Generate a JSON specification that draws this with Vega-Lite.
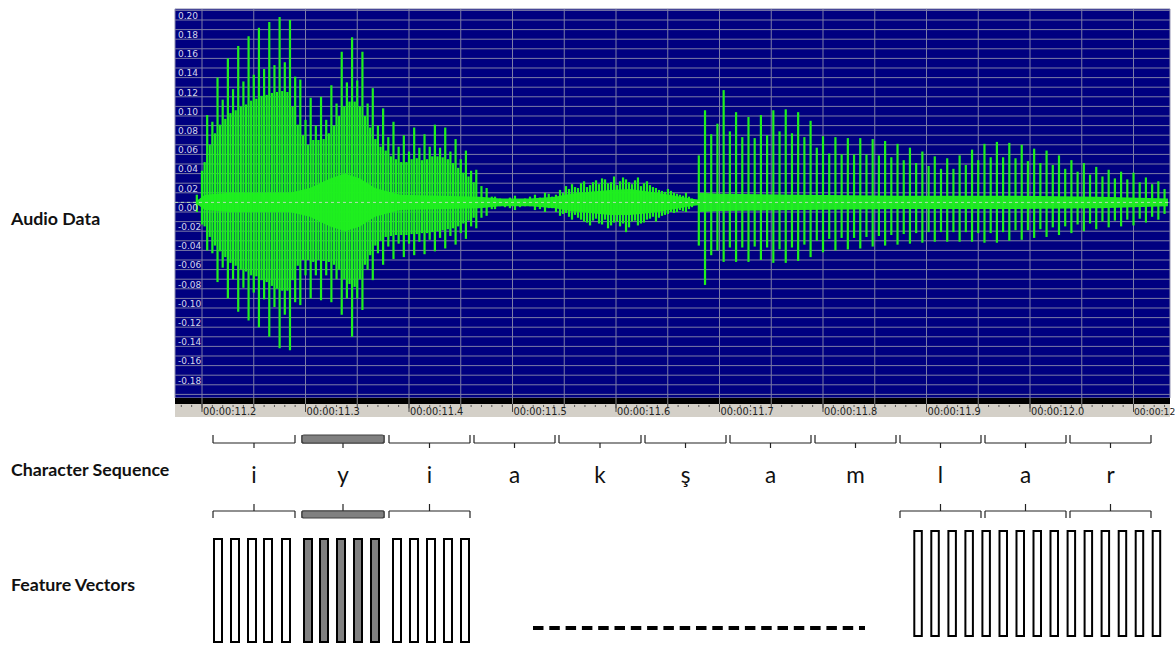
{
"$schema":"https://vega.github.io/schema/vega-lite/v6.json",
"width":1176,"height":646,"padding":0,
"autosize":{"type":"fit","contains":"padding"},
"background":"white",
"config":{"view":{"stroke":null}},
"datasets":{
"panel":[{"start":11173.91,"end":12135.26,"min":-0.2037,"max":0.2015}],
"hgrid":[{"a":-0.2},{"a":-0.19},{"a":-0.18},{"a":-0.17},{"a":-0.16},{"a":-0.15},{"a":-0.14},{"a":-0.13},{"a":-0.12},{"a":-0.11},{"a":-0.1},{"a":-0.09},{"a":-0.08},{"a":-0.07},{"a":-0.06},{"a":-0.05},{"a":-0.04},{"a":-0.03},{"a":-0.02},{"a":-0.01},{"a":0},{"a":0.01},{"a":0.02},{"a":0.03},{"a":0.04},{"a":0.05},{"a":0.06},{"a":0.07},{"a":0.08},{"a":0.09},{"a":0.1},{"a":0.11},{"a":0.12},{"a":0.13},{"a":0.14},{"a":0.15},{"a":0.16},{"a":0.17},{"a":0.18},{"a":0.19},{"a":0.2}],
"ylab":[{"a":0.2,"lab":"0.20"},{"a":0.18,"lab":"0.18"},{"a":0.16,"lab":"0.16"},{"a":0.14,"lab":"0.14"},{"a":0.12,"lab":"0.12"},{"a":0.1,"lab":"0.10"},{"a":0.08,"lab":"0.08"},{"a":0.06,"lab":"0.06"},{"a":0.04,"lab":"0.04"},{"a":0.02,"lab":"0.02"},{"a":0,"lab":"0.00"},{"a":-0.02,"lab":"-0.02"},{"a":-0.04,"lab":"-0.04"},{"a":-0.06,"lab":"-0.06"},{"a":-0.08,"lab":"-0.08"},{"a":-0.1,"lab":"-0.10"},{"a":-0.12,"lab":"-0.12"},{"a":-0.14,"lab":"-0.14"},{"a":-0.16,"lab":"-0.16"},{"a":-0.18,"lab":"-0.18"}],
"vgrid":[{"t":11200,"lab":"00:00:11.2"},{"t":11250},{"t":11300,"lab":"00:00:11.3"},{"t":11350},{"t":11400,"lab":"00:00:11.4"},{"t":11450},{"t":11500,"lab":"00:00:11.5"},{"t":11550},{"t":11600,"lab":"00:00:11.6"},{"t":11650},{"t":11700,"lab":"00:00:11.7"},{"t":11750},{"t":11800,"lab":"00:00:11.8"},{"t":11850},{"t":11900,"lab":"00:00:11.9"},{"t":11950},{"t":12000,"lab":"00:00:12.0"},{"t":12050},{"t":12100,"lab":"00:00:12"}],
"minor":[{"t":11180},{"t":11190},{"t":11210},{"t":11220},{"t":11230},{"t":11240},{"t":11260},{"t":11270},{"t":11280},{"t":11290},{"t":11310},{"t":11320},{"t":11330},{"t":11340},{"t":11360},{"t":11370},{"t":11380},{"t":11390},{"t":11410},{"t":11420},{"t":11430},{"t":11440},{"t":11460},{"t":11470},{"t":11480},{"t":11490},{"t":11510},{"t":11520},{"t":11530},{"t":11540},{"t":11560},{"t":11570},{"t":11580},{"t":11590},{"t":11610},{"t":11620},{"t":11630},{"t":11640},{"t":11660},{"t":11670},{"t":11680},{"t":11690},{"t":11710},{"t":11720},{"t":11730},{"t":11740},{"t":11760},{"t":11770},{"t":11780},{"t":11790},{"t":11810},{"t":11820},{"t":11830},{"t":11840},{"t":11860},{"t":11870},{"t":11880},{"t":11890},{"t":11910},{"t":11920},{"t":11930},{"t":11940},{"t":11960},{"t":11970},{"t":11980},{"t":11990},{"t":12010},{"t":12020},{"t":12030},{"t":12040},{"t":12060},{"t":12070},{"t":12080},{"t":12090},{"t":12110},{"t":12120},{"t":12130}],
"band":[{"t":11195.2,"hi":0.002,"lo":-0.002},{"t":11202.9,"hi":0.008,"lo":-0.008},{"t":11227.1,"hi":0.01,"lo":-0.01},{"t":11285.0,"hi":0.01,"lo":-0.01},{"t":11304.3,"hi":0.015,"lo":-0.015},{"t":11323.7,"hi":0.025,"lo":-0.025},{"t":11338.2,"hi":0.03,"lo":-0.03},{"t":11352.6,"hi":0.025,"lo":-0.025},{"t":11367.1,"hi":0.015,"lo":-0.015},{"t":11391.3,"hi":0.008,"lo":-0.008},{"t":11468.6,"hi":0.006,"lo":-0.006},{"t":11487.9,"hi":0.004,"lo":-0.004},{"t":11516.9,"hi":0.004,"lo":-0.004},{"t":11541.1,"hi":0.006,"lo":-0.006},{"t":11555.5,"hi":0.009,"lo":-0.009},{"t":11574.9,"hi":0.011,"lo":-0.011},{"t":11594.2,"hi":0.013,"lo":-0.013},{"t":11613.5,"hi":0.014,"lo":-0.013},{"t":11632.8,"hi":0.011,"lo":-0.011},{"t":11652.2,"hi":0.008,"lo":-0.008},{"t":11671.5,"hi":0.004,"lo":-0.004},{"t":11679.2,"hi":0.003,"lo":-0.003},{"t":11681.2,"hi":0.01,"lo":-0.01},{"t":11700.5,"hi":0.009,"lo":-0.009},{"t":11777.8,"hi":0.008,"lo":-0.008},{"t":11874.4,"hi":0.007,"lo":-0.007},{"t":11971.0,"hi":0.007,"lo":-0.007},{"t":12067.6,"hi":0.006,"lo":-0.006},{"t":12133.3,"hi":0.004,"lo":-0.004}],
"pulses":[
{"t":11195,"hi":0.008,"lo":-0.010},{"t":11200,"hi":0.033,"lo":-0.023},{"t":11205,"hi":0.091,"lo":-0.050},{"t":11210,"hi":0.084,"lo":-0.053},{"t":11215,"hi":0.130,"lo":-0.083},{"t":11220,"hi":0.107,"lo":-0.068},{"t":11225,"hi":0.150,"lo":-0.100},{"t":11230,"hi":0.118,"lo":-0.080},{"t":11235,"hi":0.163,"lo":-0.114},{"t":11240,"hi":0.126,"lo":-0.089},{"t":11245,"hi":0.173,"lo":-0.123},{"t":11250,"hi":0.133,"lo":-0.094},{"t":11255,"hi":0.182,"lo":-0.130},{"t":11260,"hi":0.139,"lo":-0.101},{"t":11265,"hi":0.188,"lo":-0.140},{"t":11270,"hi":0.143,"lo":-0.109},{"t":11275,"hi":0.193,"lo":-0.152},{"t":11280,"hi":0.146,"lo":-0.117},{"t":11285,"hi":0.190,"lo":-0.154},{"t":11290,"hi":0.131,"lo":-0.104},{"t":11295,"hi":0.128,"lo":-0.107},{"t":11300,"hi":0.086,"lo":-0.076},{"t":11305,"hi":0.109,"lo":-0.100},{"t":11310,"hi":0.080,"lo":-0.076},{"t":11315,"hi":0.110,"lo":-0.102},{"t":11320,"hi":0.086,"lo":-0.076},{"t":11325,"hi":0.122,"lo":-0.104},{"t":11330,"hi":0.103,"lo":-0.080},{"t":11335,"hi":0.157,"lo":-0.117},{"t":11340,"hi":0.125,"lo":-0.100},{"t":11345,"hi":0.172,"lo":-0.140},{"t":11350,"hi":0.127,"lo":-0.100},{"t":11355,"hi":0.157,"lo":-0.112},{"t":11360,"hi":0.103,"lo":-0.070},{"t":11365,"hi":0.119,"lo":-0.081},{"t":11370,"hi":0.080,"lo":-0.053},{"t":11375,"hi":0.098,"lo":-0.065},{"t":11380,"hi":0.068,"lo":-0.046},{"t":11385,"hi":0.084,"lo":-0.059},{"t":11390,"hi":0.058,"lo":-0.043},{"t":11395,"hi":0.070,"lo":-0.057},{"t":11400,"hi":0.053,"lo":-0.043},{"t":11405,"hi":0.078,"lo":-0.055},{"t":11410,"hi":0.057,"lo":-0.041},{"t":11415,"hi":0.071,"lo":-0.054},{"t":11420,"hi":0.058,"lo":-0.039},{"t":11425,"hi":0.081,"lo":-0.051},{"t":11430,"hi":0.057,"lo":-0.037},{"t":11435,"hi":0.078,"lo":-0.048},{"t":11440,"hi":0.053,"lo":-0.035},{"t":11445,"hi":0.066,"lo":-0.044},{"t":11450,"hi":0.045,"lo":-0.032},{"t":11455,"hi":0.054,"lo":-0.038},{"t":11460,"hi":0.033,"lo":-0.025},{"t":11465,"hi":0.034,"lo":-0.027},{"t":11470,"hi":0.017,"lo":-0.016},{"t":11475,"hi":0.015,"lo":-0.014},{"t":11480,"hi":0.006,"lo":-0.007},
{"t":11202.5,"hi":0.042,"lo":-0.025},{"t":11207.5,"hi":0.060,"lo":-0.036},{"t":11212.5,"hi":0.072,"lo":-0.045},{"t":11217.5,"hi":0.081,"lo":-0.051},{"t":11222.5,"hi":0.087,"lo":-0.057},{"t":11227.5,"hi":0.093,"lo":-0.063},{"t":11232.5,"hi":0.096,"lo":-0.066},{"t":11237.5,"hi":0.100,"lo":-0.070},{"t":11242.5,"hi":0.102,"lo":-0.072},{"t":11247.5,"hi":0.106,"lo":-0.076},{"t":11252.5,"hi":0.108,"lo":-0.077},{"t":11257.5,"hi":0.111,"lo":-0.081},{"t":11262.5,"hi":0.112,"lo":-0.083},{"t":11267.5,"hi":0.114,"lo":-0.087},{"t":11272.5,"hi":0.115,"lo":-0.090},{"t":11277.5,"hi":0.116,"lo":-0.092},{"t":11282.5,"hi":0.115,"lo":-0.092},{"t":11287.5,"hi":0.100,"lo":-0.081},{"t":11292.5,"hi":0.081,"lo":-0.066},
{"t":11297.5,"hi":0.070,"lo":-0.060},{"t":11302.5,"hi":0.060,"lo":-0.060},{"t":11307.5,"hi":0.065,"lo":-0.062},{"t":11312.5,"hi":0.065,"lo":-0.060},{"t":11317.5,"hi":0.066,"lo":-0.061},{"t":11322.5,"hi":0.072,"lo":-0.062},{"t":11327.5,"hi":0.080,"lo":-0.065},{"t":11332.5,"hi":0.090,"lo":-0.070},{"t":11337.5,"hi":0.100,"lo":-0.080},{"t":11342.5,"hi":0.105,"lo":-0.085},{"t":11347.5,"hi":0.105,"lo":-0.088},{"t":11352.5,"hi":0.100,"lo":-0.080},{"t":11357.5,"hi":0.090,"lo":-0.065},{"t":11362.5,"hi":0.078,"lo":-0.055},{"t":11367.5,"hi":0.066,"lo":-0.045},{"t":11372.5,"hi":0.058,"lo":-0.040},
{"t":11377.5,"hi":0.054,"lo":-0.036},{"t":11382.5,"hi":0.048,"lo":-0.035},{"t":11387.5,"hi":0.045,"lo":-0.034},{"t":11392.5,"hi":0.042,"lo":-0.034},{"t":11397.5,"hi":0.042,"lo":-0.034},{"t":11402.5,"hi":0.045,"lo":-0.033},{"t":11407.5,"hi":0.046,"lo":-0.033},{"t":11412.5,"hi":0.044,"lo":-0.032},{"t":11417.5,"hi":0.045,"lo":-0.032},{"t":11422.5,"hi":0.048,"lo":-0.031},{"t":11427.5,"hi":0.048,"lo":-0.030},{"t":11432.5,"hi":0.047,"lo":-0.029},{"t":11437.5,"hi":0.045,"lo":-0.028},{"t":11442.5,"hi":0.041,"lo":-0.027},{"t":11447.5,"hi":0.036,"lo":-0.025},{"t":11452.5,"hi":0.031,"lo":-0.022},{"t":11457.5,"hi":0.027,"lo":-0.019},{"t":11462.5,"hi":0.021,"lo":-0.016},
{"t":11483.1,"hi":0.006,"lo":-0.007},{"t":11488.0,"hi":0.004,"lo":-0.004},{"t":11492.7,"hi":0.003,"lo":-0.005},{"t":11497.5,"hi":0.005,"lo":-0.006},{"t":11502.4,"hi":0.007,"lo":-0.008},{"t":11507.2,"hi":0.003,"lo":-0.005},{"t":11512.1,"hi":0.004,"lo":-0.004},{"t":11516.9,"hi":0.006,"lo":-0.004},{"t":11521.7,"hi":0.008,"lo":-0.008},{"t":11526.5,"hi":0.005,"lo":-0.007},{"t":11531.4,"hi":0.010,"lo":-0.010},{"t":11535.0,"hi":0.009,"lo":-0.006},{"t":11538.2,"hi":0.006,"lo":-0.006},{"t":11542.0,"hi":0.008,"lo":-0.010},{"t":11545.9,"hi":0.013,"lo":-0.014},{"t":11548.8,"hi":0.010,"lo":-0.012},{"t":11551.7,"hi":0.017,"lo":-0.011},{"t":11554.6,"hi":0.014,"lo":-0.015},{"t":11557.5,"hi":0.019,"lo":-0.018},{"t":11560.4,"hi":0.016,"lo":-0.013},{"t":11563.3,"hi":0.015,"lo":-0.016},{"t":11566.2,"hi":0.020,"lo":-0.018},{"t":11569.1,"hi":0.022,"lo":-0.020},{"t":11572.0,"hi":0.016,"lo":-0.021},{"t":11574.9,"hi":0.018,"lo":-0.024},{"t":11577.8,"hi":0.021,"lo":-0.019},{"t":11580.7,"hi":0.023,"lo":-0.017},{"t":11583.6,"hi":0.019,"lo":-0.022},{"t":11586.5,"hi":0.025,"lo":-0.023},{"t":11589.4,"hi":0.024,"lo":-0.018},{"t":11592.3,"hi":0.020,"lo":-0.027},{"t":11595.2,"hi":0.021,"lo":-0.024},{"t":11598.1,"hi":0.027,"lo":-0.021},{"t":11601.0,"hi":0.018,"lo":-0.020},{"t":11603.9,"hi":0.022,"lo":-0.025},{"t":11606.8,"hi":0.026,"lo":-0.022},{"t":11609.7,"hi":0.024,"lo":-0.031},{"t":11612.6,"hi":0.021,"lo":-0.026},{"t":11615.5,"hi":0.019,"lo":-0.020},{"t":11618.4,"hi":0.023,"lo":-0.019},{"t":11621.2,"hi":0.026,"lo":-0.024},{"t":11624.1,"hi":0.017,"lo":-0.022},{"t":11627.0,"hi":0.020,"lo":-0.021},{"t":11629.9,"hi":0.022,"lo":-0.018},{"t":11632.8,"hi":0.018,"lo":-0.017},{"t":11635.7,"hi":0.016,"lo":-0.015},{"t":11638.6,"hi":0.015,"lo":-0.020},{"t":11641.5,"hi":0.013,"lo":-0.016},{"t":11644.4,"hi":0.012,"lo":-0.014},{"t":11647.3,"hi":0.011,"lo":-0.013},{"t":11650.2,"hi":0.014,"lo":-0.012},{"t":11653.1,"hi":0.012,"lo":-0.010},{"t":11656.0,"hi":0.010,"lo":-0.011},{"t":11658.9,"hi":0.009,"lo":-0.010},{"t":11661.8,"hi":0.008,"lo":-0.008},{"t":11664.7,"hi":0.007,"lo":-0.009},{"t":11667.6,"hi":0.010,"lo":-0.010},{"t":11670.5,"hi":0.006,"lo":-0.007},{"t":11673.4,"hi":0.004,"lo":-0.005},
{"t":11680,"hi":0.049,"lo":-0.045},{"t":11686,"hi":0.096,"lo":-0.086},{"t":11692,"hi":0.071,"lo":-0.055},{"t":11698,"hi":0.082,"lo":-0.050},{"t":11704,"hi":0.117,"lo":-0.062},{"t":11710,"hi":0.074,"lo":-0.047},{"t":11716,"hi":0.094,"lo":-0.062},{"t":11722,"hi":0.068,"lo":-0.047},{"t":11728,"hi":0.089,"lo":-0.062},{"t":11734,"hi":0.067,"lo":-0.046},{"t":11740,"hi":0.091,"lo":-0.060},{"t":11746,"hi":0.070,"lo":-0.047},{"t":11752,"hi":0.096,"lo":-0.063},{"t":11758,"hi":0.074,"lo":-0.049},{"t":11764,"hi":0.097,"lo":-0.063},{"t":11770,"hi":0.072,"lo":-0.047},{"t":11776,"hi":0.094,"lo":-0.061},{"t":11782,"hi":0.068,"lo":-0.044},{"t":11788,"hi":0.085,"lo":-0.057},{"t":11794,"hi":0.057,"lo":-0.040},{"t":11800,"hi":0.069,"lo":-0.052},{"t":11806,"hi":0.051,"lo":-0.038},{"t":11812,"hi":0.068,"lo":-0.050},{"t":11818,"hi":0.050,"lo":-0.037},{"t":11824,"hi":0.067,"lo":-0.049},{"t":11830,"hi":0.050,"lo":-0.037},{"t":11836,"hi":0.067,"lo":-0.048},{"t":11842,"hi":0.050,"lo":-0.036},{"t":11848,"hi":0.066,"lo":-0.046},{"t":11854,"hi":0.049,"lo":-0.035},{"t":11860,"hi":0.064,"lo":-0.045},{"t":11866,"hi":0.047,"lo":-0.034},{"t":11872,"hi":0.061,"lo":-0.044},{"t":11878,"hi":0.044,"lo":-0.033},{"t":11884,"hi":0.057,"lo":-0.043},{"t":11890,"hi":0.041,"lo":-0.032},{"t":11896,"hi":0.053,"lo":-0.042},{"t":11902,"hi":0.038,"lo":-0.031},{"t":11908,"hi":0.048,"lo":-0.041},{"t":11914,"hi":0.035,"lo":-0.031},{"t":11920,"hi":0.046,"lo":-0.041},{"t":11926,"hi":0.035,"lo":-0.031},{"t":11932,"hi":0.049,"lo":-0.041},{"t":11938,"hi":0.039,"lo":-0.031},{"t":11944,"hi":0.055,"lo":-0.041},{"t":11950,"hi":0.044,"lo":-0.032},{"t":11956,"hi":0.061,"lo":-0.042},{"t":11962,"hi":0.047,"lo":-0.032},{"t":11968,"hi":0.063,"lo":-0.042},{"t":11974,"hi":0.047,"lo":-0.031},{"t":11980,"hi":0.062,"lo":-0.040},{"t":11986,"hi":0.046,"lo":-0.029},{"t":11992,"hi":0.060,"lo":-0.039},{"t":11998,"hi":0.043,"lo":-0.029},{"t":12004,"hi":0.056,"lo":-0.037},{"t":12010,"hi":0.041,"lo":-0.028},{"t":12016,"hi":0.054,"lo":-0.036},{"t":12022,"hi":0.039,"lo":-0.026},{"t":12028,"hi":0.049,"lo":-0.034},{"t":12034,"hi":0.035,"lo":-0.025},{"t":12040,"hi":0.044,"lo":-0.032},{"t":12046,"hi":0.032,"lo":-0.023},{"t":12052,"hi":0.041,"lo":-0.030},{"t":12058,"hi":0.029,"lo":-0.022},{"t":12064,"hi":0.037,"lo":-0.028},{"t":12070,"hi":0.027,"lo":-0.020},{"t":12076,"hi":0.034,"lo":-0.026},{"t":12082,"hi":0.025,"lo":-0.019},{"t":12088,"hi":0.032,"lo":-0.025},{"t":12094,"hi":0.024,"lo":-0.018},{"t":12100,"hi":0.031,"lo":-0.024},{"t":12106,"hi":0.021,"lo":-0.017},{"t":12112,"hi":0.026,"lo":-0.021},{"t":12118,"hi":0.019,"lo":-0.015},{"t":12124,"hi":0.022,"lo":-0.018},{"t":12130,"hi":0.014,"lo":-0.012}],
"tiers":[{"tier":"Audio Data"},{"tier":"Character Sequence"},{"tier":"Feature Vectors"}],
"chars":[
{"ch":"i","s":11210.63,"e":11289.85,"c":11250.24,"hl":false,"fv":true},
{"ch":"y","s":11296.62,"e":11375.84,"c":11336.23,"hl":true,"fv":true},
{"ch":"i","s":11380.67,"e":11458.93,"c":11419.80,"hl":false,"fv":true},
{"ch":"a","s":11462.80,"e":11541.06,"c":11501.93,"hl":false,"fv":false},
{"ch":"k","s":11544.92,"e":11624.15,"c":11584.54,"hl":false,"fv":false},
{"ch":"ş","s":11628.02,"e":11706.28,"c":11667.15,"hl":false,"fv":false},
{"ch":"a","s":11710.14,"e":11788.40,"c":11749.27,"hl":false,"fv":false},
{"ch":"m","s":11792.27,"e":11870.53,"c":11831.40,"hl":false,"fv":false},
{"ch":"l","s":11874.39,"e":11952.65,"c":11913.52,"hl":false,"fv":true},
{"ch":"a","s":11956.52,"e":12034.78,"c":11995.65,"hl":false,"fv":true},
{"ch":"r","s":12038.64,"e":12116.90,"c":12077.77,"hl":false,"fv":true}],
"vectors":[
{"s":11211.59,"e":11219.32,"hl":false,"grp":"L"},{"s":11228.02,"e":11235.75,"hl":false,"grp":"L"},{"s":11244.44,"e":11252.17,"hl":false,"grp":"L"},{"s":11259.90,"e":11267.63,"hl":false,"grp":"L"},{"s":11277.29,"e":11285.02,"hl":false,"grp":"L"},
{"s":11298.55,"e":11306.28,"hl":true,"grp":"L"},{"s":11314.01,"e":11321.74,"hl":true,"grp":"L"},{"s":11330.43,"e":11338.16,"hl":true,"grp":"L"},{"s":11346.86,"e":11354.59,"hl":true,"grp":"L"},{"s":11363.28,"e":11371.01,"hl":true,"grp":"L"},
{"s":11384.54,"e":11392.27,"hl":false,"grp":"L"},{"s":11400.96,"e":11408.69,"hl":false,"grp":"L"},{"s":11417.39,"e":11425.12,"hl":false,"grp":"L"},{"s":11433.81,"e":11441.54,"hl":false,"grp":"L"},{"s":11450.24,"e":11457.97,"hl":false,"grp":"L"},
{"s":11888.21,"e":11895.46,"hl":false,"grp":"R"},{"s":11904.63,"e":11911.88,"hl":false,"grp":"R"},{"s":11921.15,"e":11928.40,"hl":false,"grp":"R"},{"s":11937.58,"e":11944.83,"hl":false,"grp":"R"},{"s":11954.01,"e":11961.25,"hl":false,"grp":"R"},{"s":11970.53,"e":11977.77,"hl":false,"grp":"R"},{"s":11986.95,"e":11994.20,"hl":false,"grp":"R"},{"s":12003.38,"e":12010.62,"hl":false,"grp":"R"},{"s":12019.80,"e":12027.05,"hl":false,"grp":"R"},{"s":12036.32,"e":12043.57,"hl":false,"grp":"R"},{"s":12052.75,"e":12059.99,"hl":false,"grp":"R"},{"s":12069.17,"e":12076.42,"hl":false,"grp":"R"},{"s":12085.70,"e":12092.94,"hl":false,"grp":"R"},{"s":12102.12,"e":12109.37,"hl":false,"grp":"R"},{"s":12118.55,"e":12125.79,"hl":false,"grp":"R"}],
"gap":[{"s":11519.80,"e":11840.58}]
},
"layer":[
{"layer":[
{"data":{"name":"panel"},"mark":{"type":"rect","fill":"#000080","stroke":"#9090b0","strokeWidth":1},
 "encoding":{"x":{"field":"start","type":"quantitative","scale":{"domain":[11004.83,12141.06],"nice":false,"zero":false},"axis":null},"x2":{"field":"end"},
 "y":{"field":"min","type":"quantitative","scale":{"domain":[-0.46209,0.21083],"nice":false,"zero":false},"axis":null},"y2":{"field":"max"}}},
{"data":{"name":"hgrid"},"mark":{"type":"rule","color":"#7c7ca6","strokeWidth":1},
 "encoding":{"x":{"datum":11173.91,"type":"quantitative","scale":{"domain":[11004.83,12141.06],"nice":false,"zero":false},"axis":null},"x2":{"datum":12135.26},
 "y":{"field":"a","type":"quantitative","scale":{"domain":[-0.46209,0.21083],"nice":false,"zero":false},"axis":null}}},
{"data":{"name":"vgrid"},"mark":{"type":"rule","color":"#7c7ca6","strokeWidth":1},
 "encoding":{"x":{"field":"t","type":"quantitative","scale":{"domain":[11004.83,12141.06],"nice":false,"zero":false},"axis":null},
 "y":{"datum":-0.2037,"type":"quantitative","scale":{"domain":[-0.46209,0.21083],"nice":false,"zero":false},"axis":null},"y2":{"datum":0.2015}}},
{"data":{"name":"band"},"mark":{"type":"area","color":"#22f022","opacity":0.95,"interpolate":"linear"},
 "encoding":{"x":{"field":"t","type":"quantitative","scale":{"domain":[11004.83,12141.06],"nice":false,"zero":false},"axis":null},
 "y":{"field":"hi","type":"quantitative","scale":{"domain":[-0.46209,0.21083],"nice":false,"zero":false},"axis":null},"y2":{"field":"lo"}}},
{"data":{"name":"pulses"},"mark":{"type":"rule","color":"#1ef01e","strokeWidth":2.2},
 "encoding":{"x":{"field":"t","type":"quantitative","scale":{"domain":[11004.83,12141.06],"nice":false,"zero":false},"axis":null},
 "y":{"field":"hi","type":"quantitative","scale":{"domain":[-0.46209,0.21083],"nice":false,"zero":false},"axis":null},"y2":{"field":"lo"}}},
{"data":{"name":"panel"},"mark":{"type":"rule","color":"#b8d8b8","strokeWidth":1,"strokeDash":[3,3]},
 "encoding":{"x":{"field":"start","type":"quantitative","scale":{"domain":[11004.83,12141.06],"nice":false,"zero":false},"axis":null},"x2":{"field":"end"},
 "y":{"datum":0,"type":"quantitative","scale":{"domain":[-0.46209,0.21083],"nice":false,"zero":false},"axis":null}}},
{"data":{"name":"ylab"},"mark":{"type":"text","align":"left","baseline":"top","dy":1.5,"font":"DejaVu Sans","fontSize":9,"color":"#d6d6ea"},
 "encoding":{"x":{"datum":11176.81,"type":"quantitative","scale":{"domain":[11004.83,12141.06],"nice":false,"zero":false},"axis":null},
 "y":{"field":"a","type":"quantitative","scale":{"domain":[-0.46209,0.21083],"nice":false,"zero":false},"axis":null},"text":{"field":"lab"}}},
{"data":{"name":"panel"},"mark":{"type":"rect","fill":"#000000"},
 "encoding":{"x":{"field":"start","type":"quantitative","scale":{"domain":[11004.83,12141.06],"nice":false,"zero":false},"axis":null},"x2":{"field":"end"},
 "y":{"datum":-0.2037,"type":"quantitative","scale":{"domain":[-0.46209,0.21083],"nice":false,"zero":false},"axis":null},"y2":{"datum":-0.2100}}},
{"data":{"name":"panel"},"mark":{"type":"rect","fill":"#d4d0c8"},
 "encoding":{"x":{"field":"start","type":"quantitative","scale":{"domain":[11004.83,12141.06],"nice":false,"zero":false},"axis":null},"x2":{"field":"end"},
 "y":{"datum":-0.2100,"type":"quantitative","scale":{"domain":[-0.46209,0.21083],"nice":false,"zero":false},"axis":null},"y2":{"datum":-0.2235}}},
{"data":{"name":"vgrid"},"mark":{"type":"rule","color":"#8a8a8a","strokeWidth":1},
 "encoding":{"x":{"field":"t","type":"quantitative","scale":{"domain":[11004.83,12141.06],"nice":false,"zero":false},"axis":null},
 "y":{"datum":-0.2037,"type":"quantitative","scale":{"domain":[-0.46209,0.21083],"nice":false,"zero":false},"axis":null},"y2":{"datum":-0.2100}}},
{"data":{"name":"minor"},"mark":{"type":"rule","color":"#555555","strokeWidth":1},
 "encoding":{"x":{"field":"t","type":"quantitative","scale":{"domain":[11004.83,12141.06],"nice":false,"zero":false},"axis":null},
 "y":{"datum":-0.2110,"type":"quantitative","scale":{"domain":[-0.46209,0.21083],"nice":false,"zero":false},"axis":null},"y2":{"datum":-0.2131}}},
{"data":{"name":"vgrid"},"mark":{"type":"rule","color":"#444444","strokeWidth":1},
 "encoding":{"x":{"field":"t","type":"quantitative","scale":{"domain":[11004.83,12141.06],"nice":false,"zero":false},"axis":null},
 "y":{"datum":-0.2100,"type":"quantitative","scale":{"domain":[-0.46209,0.21083],"nice":false,"zero":false},"axis":null},"y2":{"datum":-0.2145}}},
{"data":{"name":"vgrid"},"transform":[{"filter":"isValid(datum.lab)"}],"mark":{"type":"rule","color":"#444444","strokeWidth":1},
 "encoding":{"x":{"field":"t","type":"quantitative","scale":{"domain":[11004.83,12141.06],"nice":false,"zero":false},"axis":null},
 "y":{"datum":-0.2100,"type":"quantitative","scale":{"domain":[-0.46209,0.21083],"nice":false,"zero":false},"axis":null},"y2":{"datum":-0.2183}}},
{"data":{"name":"vgrid"},"transform":[{"filter":"isValid(datum.lab) && datum.t < 12100"}],"mark":{"type":"text","align":"left","baseline":"middle","dx":1,"font":"DejaVu Sans","fontSize":9.8,"color":"#222222"},
 "encoding":{"x":{"field":"t","type":"quantitative","scale":{"domain":[11004.83,12141.06],"nice":false,"zero":false},"axis":null},
 "y":{"datum":-0.2180,"type":"quantitative","scale":{"domain":[-0.46209,0.21083],"nice":false,"zero":false},"axis":null},"text":{"field":"lab"}}},
{"data":{"name":"vgrid"},"transform":[{"filter":"datum.t == 12100"}],"mark":{"type":"text","align":"left","baseline":"middle","dx":0.5,"font":"DejaVu Sans","fontSize":9.2,"color":"#222222"},
 "encoding":{"x":{"field":"t","type":"quantitative","scale":{"domain":[11004.83,12141.06],"nice":false,"zero":false},"axis":null},
 "y":{"datum":-0.2180,"type":"quantitative","scale":{"domain":[-0.46209,0.21083],"nice":false,"zero":false},"axis":null},"text":{"field":"lab"}}}
]},
{"layer":[
{"data":{"name":"tiers"},"transform":[{"filter":"datum.tier == 'Audio Data'"}],"mark":{"type":"text","align":"left","baseline":"middle","font":"Lato","fontSize":17.8,"fontWeight":"bold","color":"#111111"},
 "encoding":{"x":{"datum":11015.46,"type":"quantitative","scale":{"domain":[11004.83,12141.06],"nice":false,"zero":false},"axis":null},
 "y":{"datum":220,"type":"quantitative","scale":{"domain":[0,646],"reverse":true,"nice":false,"zero":false},"axis":null},"text":{"field":"tier"}}},
{"data":{"name":"tiers"},"transform":[{"filter":"datum.tier == 'Character Sequence'"}],"mark":{"type":"text","align":"left","baseline":"middle","font":"Lato","fontSize":17.8,"fontWeight":"bold","color":"#111111"},
 "encoding":{"x":{"datum":11015.46,"type":"quantitative","scale":{"domain":[11004.83,12141.06],"nice":false,"zero":false},"axis":null},
 "y":{"datum":471,"type":"quantitative","scale":{"domain":[0,646],"reverse":true,"nice":false,"zero":false},"axis":null},"text":{"field":"tier"}}},
{"data":{"name":"tiers"},"transform":[{"filter":"datum.tier == 'Feature Vectors'"}],"mark":{"type":"text","align":"left","baseline":"middle","font":"Lato","fontSize":17.8,"fontWeight":"bold","color":"#111111"},
 "encoding":{"x":{"datum":11015.46,"type":"quantitative","scale":{"domain":[11004.83,12141.06],"nice":false,"zero":false},"axis":null},
 "y":{"datum":586,"type":"quantitative","scale":{"domain":[0,646],"reverse":true,"nice":false,"zero":false},"axis":null},"text":{"field":"tier"}}},
{"data":{"name":"chars"},"mark":{"type":"rule","color":"#222222","strokeWidth":1.2},
 "encoding":{"x":{"field":"s","type":"quantitative","scale":{"domain":[11004.83,12141.06],"nice":false,"zero":false},"axis":null},"x2":{"field":"e"},
 "y":{"datum":443,"type":"quantitative","scale":{"domain":[0,646],"reverse":true,"nice":false,"zero":false},"axis":null}}},
{"data":{"name":"chars"},"mark":{"type":"rule","color":"#222222","strokeWidth":1.2},
 "encoding":{"x":{"field":"s","type":"quantitative","scale":{"domain":[11004.83,12141.06],"nice":false,"zero":false},"axis":null},
 "y":{"datum":435,"type":"quantitative","scale":{"domain":[0,646],"reverse":true,"nice":false,"zero":false},"axis":null},"y2":{"datum":443}}},
{"data":{"name":"chars"},"mark":{"type":"rule","color":"#222222","strokeWidth":1.2},
 "encoding":{"x":{"field":"e","type":"quantitative","scale":{"domain":[11004.83,12141.06],"nice":false,"zero":false},"axis":null},
 "y":{"datum":435,"type":"quantitative","scale":{"domain":[0,646],"reverse":true,"nice":false,"zero":false},"axis":null},"y2":{"datum":443}}},
{"data":{"name":"chars"},"mark":{"type":"rule","color":"#222222","strokeWidth":1.2},
 "encoding":{"x":{"field":"c","type":"quantitative","scale":{"domain":[11004.83,12141.06],"nice":false,"zero":false},"axis":null},
 "y":{"datum":443,"type":"quantitative","scale":{"domain":[0,646],"reverse":true,"nice":false,"zero":false},"axis":null},"y2":{"datum":448}}},
{"data":{"name":"chars"},"transform":[{"filter":"datum.hl"}],"mark":{"type":"rect","fill":"#808080","stroke":"#404040","strokeWidth":1.2,"cornerRadius":2},
 "encoding":{"x":{"field":"s","type":"quantitative","scale":{"domain":[11004.83,12141.06],"nice":false,"zero":false},"axis":null},"x2":{"field":"e"},
 "y":{"datum":435,"type":"quantitative","scale":{"domain":[0,646],"reverse":true,"nice":false,"zero":false},"axis":null},"y2":{"datum":443}}},
{"data":{"name":"chars"},"mark":{"type":"text","align":"center","baseline":"middle","font":"Lato","fontSize":22.5,"color":"#111111"},
 "encoding":{"x":{"field":"c","type":"quantitative","scale":{"domain":[11004.83,12141.06],"nice":false,"zero":false},"axis":null},
 "y":{"datum":476,"type":"quantitative","scale":{"domain":[0,646],"reverse":true,"nice":false,"zero":false},"axis":null},"text":{"field":"ch"}}},
{"data":{"name":"chars"},"transform":[{"filter":"datum.fv"}],"mark":{"type":"rule","color":"#222222","strokeWidth":1.2},
 "encoding":{"x":{"field":"s","type":"quantitative","scale":{"domain":[11004.83,12141.06],"nice":false,"zero":false},"axis":null},"x2":{"field":"e"},
 "y":{"datum":511,"type":"quantitative","scale":{"domain":[0,646],"reverse":true,"nice":false,"zero":false},"axis":null}}},
{"data":{"name":"chars"},"transform":[{"filter":"datum.fv"}],"mark":{"type":"rule","color":"#222222","strokeWidth":1.2},
 "encoding":{"x":{"field":"s","type":"quantitative","scale":{"domain":[11004.83,12141.06],"nice":false,"zero":false},"axis":null},
 "y":{"datum":511,"type":"quantitative","scale":{"domain":[0,646],"reverse":true,"nice":false,"zero":false},"axis":null},"y2":{"datum":518}}},
{"data":{"name":"chars"},"transform":[{"filter":"datum.fv"}],"mark":{"type":"rule","color":"#222222","strokeWidth":1.2},
 "encoding":{"x":{"field":"e","type":"quantitative","scale":{"domain":[11004.83,12141.06],"nice":false,"zero":false},"axis":null},
 "y":{"datum":511,"type":"quantitative","scale":{"domain":[0,646],"reverse":true,"nice":false,"zero":false},"axis":null},"y2":{"datum":518}}},
{"data":{"name":"chars"},"transform":[{"filter":"datum.fv"}],"mark":{"type":"rule","color":"#222222","strokeWidth":1.2},
 "encoding":{"x":{"field":"c","type":"quantitative","scale":{"domain":[11004.83,12141.06],"nice":false,"zero":false},"axis":null},
 "y":{"datum":504,"type":"quantitative","scale":{"domain":[0,646],"reverse":true,"nice":false,"zero":false},"axis":null},"y2":{"datum":511}}},
{"data":{"name":"chars"},"transform":[{"filter":"datum.hl"}],"mark":{"type":"rect","fill":"#808080","stroke":"#404040","strokeWidth":1.2,"cornerRadius":2},
 "encoding":{"x":{"field":"s","type":"quantitative","scale":{"domain":[11004.83,12141.06],"nice":false,"zero":false},"axis":null},"x2":{"field":"e"},
 "y":{"datum":511,"type":"quantitative","scale":{"domain":[0,646],"reverse":true,"nice":false,"zero":false},"axis":null},"y2":{"datum":518}}},
{"data":{"name":"vectors"},"transform":[{"filter":"datum.grp == 'L'"}],"mark":{"type":"rect","stroke":"#000000","strokeWidth":2},
 "encoding":{"x":{"field":"s","type":"quantitative","scale":{"domain":[11004.83,12141.06],"nice":false,"zero":false},"axis":null},"x2":{"field":"e"},
 "y":{"datum":539,"type":"quantitative","scale":{"domain":[0,646],"reverse":true,"nice":false,"zero":false},"axis":null},"y2":{"datum":642},
 "fill":{"condition":{"test":"datum.hl","value":"#808080"},"value":"#ffffff"}}},
{"data":{"name":"vectors"},"transform":[{"filter":"datum.grp == 'R'"}],"mark":{"type":"rect","stroke":"#000000","strokeWidth":2},
 "encoding":{"x":{"field":"s","type":"quantitative","scale":{"domain":[11004.83,12141.06],"nice":false,"zero":false},"axis":null},"x2":{"field":"e"},
 "y":{"datum":531,"type":"quantitative","scale":{"domain":[0,646],"reverse":true,"nice":false,"zero":false},"axis":null},"y2":{"datum":636},
 "fill":{"condition":{"test":"datum.hl","value":"#808080"},"value":"#ffffff"}}},
{"data":{"name":"gap"},"mark":{"type":"rule","color":"#000000","strokeWidth":4,"strokeDash":[10.5,5.8],"strokeCap":"butt"},
 "encoding":{"x":{"field":"s","type":"quantitative","scale":{"domain":[11004.83,12141.06],"nice":false,"zero":false},"axis":null},"x2":{"field":"e"},
 "y":{"datum":628,"type":"quantitative","scale":{"domain":[0,646],"reverse":true,"nice":false,"zero":false},"axis":null}}}
]}
],
"resolve":{"scale":{"y":"independent"}}
}
